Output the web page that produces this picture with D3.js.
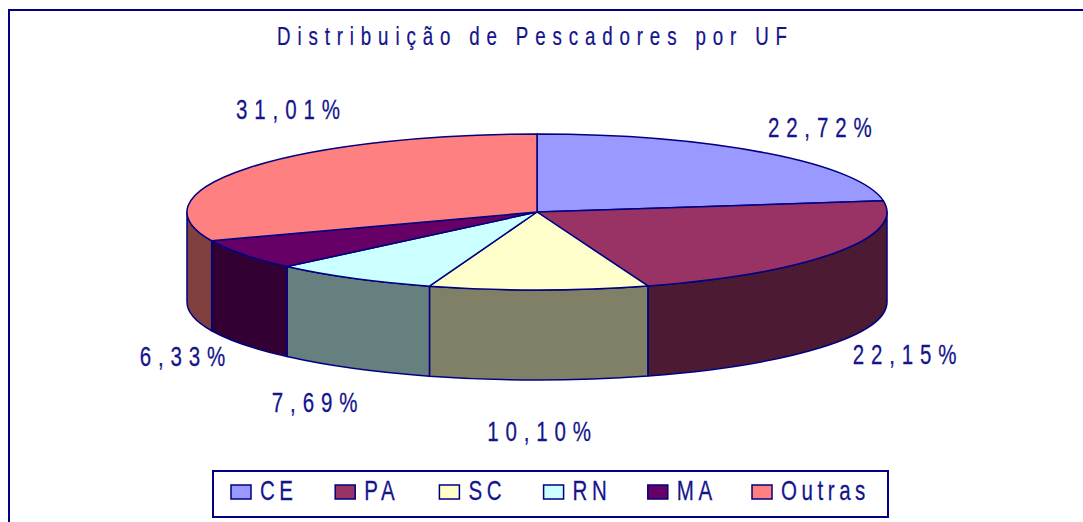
<!DOCTYPE html>
<html>
<head>
<meta charset="utf-8">
<script src="https://cdn.jsdelivr.net/npm/d3@7"></script>
<style>
  body { margin: 0; background: #fff; }
  text { font-family: "Liberation Sans", Arial, sans-serif; fill: #14148c; stroke: #14148c; stroke-width: 0.25; }
</style>
</head>
<body>
<div id="chart"></div>
<script>
// chart values
let categories = ['CE', 'PA', 'SC', 'RN', 'MA', 'Outras'];
let shares = [22.72, 22.15, 10.10, 7.69, 6.33, 31.01];
let labels = ['22,72%', '22,15%', '10,10%', '7,69%', '6,33%', '31,01%'];
let colours = ['#9999FF', '#993366', '#FFFFCC', '#CCFFFF', '#660066', '#FF8080'];
let title = 'Distribuição de Pescadores por UF';

let width = 1083, height = 522;

// pie geometry (top lid is an ellipse, side walls hang below it)
let cx = 537, cy = 212, rx = 350, ry = 78, depth = 90;
let navy = '#000080';

let svg = d3.select('#chart')
  .append('svg')
    .attr('width', width)
    .attr('height', height);

// chart area border (runs off the right and bottom of the picture)
svg.append('rect')
  .attr('x', 9)
  .attr('y', 10)
  .attr('width', width + 20)
  .attr('height', height + 20)
  .attr('fill', 'none')
  .attr('stroke', navy)
  .attr('stroke-width', 2);

// title, drawn narrow and spread out like the original
let tsx = 0.72;
svg.append('g')
    .attr('transform', `translate(532, 45) scale(${tsx}, 1)`)
  .append('text')
    .attr('text-anchor', 'middle')
    .attr('font-size', 26)
    .attr('textLength', 510 / tsx)
    .attr('lengthAdjust', 'spacing')
    .text(title);

let pie = d3.pie().sort(null).value(d => d)(shares);

// point on the lid ellipse, angle clockwise from 12 o'clock
let pt = function(a, dy) {
  return [cx + rx * Math.sin(a), cy - ry * Math.cos(a) + (dy || 0)];
}

let topPath = function(d) {
  let p0 = pt(d.startAngle), p1 = pt(d.endAngle);
  let large = d.endAngle - d.startAngle > Math.PI ? 1 : 0;
  return `M${cx},${cy} L${p0} A${rx},${ry} 0 ${large} 1 ${p1} Z`;
}

// only the front half of the wall (90deg .. 270deg) can be seen
let wallPath = function(d) {
  let u = Math.max(d.startAngle, Math.PI / 2),
      v = Math.min(d.endAngle, 3 * Math.PI / 2);
  if (u >= v) return null;
  return `M${pt(u)} A${rx},${ry} 0 0 1 ${pt(v)} L${pt(v, depth)} A${rx},${ry} 0 0 0 ${pt(u, depth)} Z`;
}

let darker = function(c) {
  let r = d3.rgb(c);
  return d3.rgb(r.r * 0.5, r.g * 0.5, r.b * 0.5).formatHex();
}

let pieGroup = svg.append('g');

pieGroup.selectAll('path.wall')
    .data(pie.filter(d => wallPath(d)))
  .enter()
  .append('path')
    .attr('class', 'wall')
    .attr('d', wallPath)
    .attr('fill', d => darker(colours[d.index]))
    .attr('stroke', navy)
    .attr('stroke-width', 1.5)
    .attr('stroke-linejoin', 'round');

pieGroup.selectAll('path.lid')
    .data(pie)
  .enter()
  .append('path')
    .attr('class', 'lid')
    .attr('d', topPath)
    .attr('fill', (d, i) => colours[i])
    .attr('stroke', navy)
    .attr('stroke-width', 1.5)
    .attr('stroke-linejoin', 'round');

// percentage labels outside the pie
let sx = 0.76, capH = 19, ls = 9;
let labelGroup = svg.append('g');
pie.forEach(function(d, i) {
  let g = labelGroup.append('g');
  let t = g.append('text')
    .attr('text-anchor', 'middle')
    .attr('font-size', 27)
    .attr('letter-spacing', ls)
    .text(labels[i]);
  let w = (t.node().getComputedTextLength() - ls) * sx;
  let mid = (d.startAngle + d.endAngle) / 2,
      s = Math.sin(mid), c = Math.cos(mid);
  let ex = cx + (rx + 30) * s,
      ey = cy - (ry + 42 * c * c) * c + (c < 0 ? depth : 0);
  let lx = ex + s * w / 2,
      ly = ey - c * capH / 2;
  // the Outras label sits above the back-left of the lid in the original
  if (categories[i] === 'Outras') {
    lx = cx + rx * s * 0.86;
    ly = cy - ry - 25;
  }
  g.attr('transform', `translate(${lx + ls * sx / 2}, ${ly + capH / 2}) scale(${sx}, 1)`);
});

// legend
let legend = svg.append('g');
legend.append('rect')
  .attr('x', 213)
  .attr('y', 471)
  .attr('width', 675)
  .attr('height', 46)
  .attr('fill', 'none')
  .attr('stroke', navy)
  .attr('stroke-width', 2);

let legendX = d3.scalePoint()
  .domain(categories)
  .range([231, 752]);

let items = legend.selectAll('g.item')
    .data(categories)
  .enter()
  .append('g')
    .attr('class', 'item')
    .attr('transform', d => `translate(${legendX(d)}, 485)`);

items.append('rect')
  .attr('width', 20)
  .attr('height', 14)
  .attr('fill', (d, i) => colours[i])
  .attr('stroke', navy)
  .attr('stroke-width', 1.5);

items.append('g')
    .attr('transform', `translate(29, 15) scale(${sx}, 1)`)
  .append('text')
    .attr('font-size', 27)
    .attr('letter-spacing', 6)
    .text(d => d);
</script>
</body>
</html>
